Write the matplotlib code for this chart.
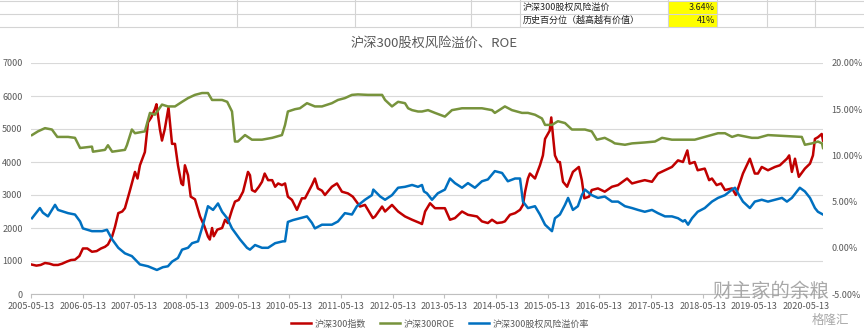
import matplotlib.pyplot as plt
import matplotlib.lines as mlines
import matplotlib.patches as mpatches
import matplotlib.ticker as mticker
import pandas as pd

plt.rcParams['font.family'] = ['Noto Sans CJK SC', 'DejaVu Sans']

# 沪深300指数 (left axis)
idx_dates = [
    '2005-05-20', '2005-06-20', '2005-07-20', '2005-08-20', '2005-09-20', '2005-10-20',
    '2005-11-20', '2005-12-20', '2006-01-20', '2006-02-20', '2006-03-20', '2006-04-20',
    '2006-05-15', '2006-06-15', '2006-07-18', '2006-08-20', '2006-09-20', '2006-10-18',
    '2006-11-08', '2006-12-08', '2006-12-28', '2007-01-20', '2007-02-17', '2007-03-08',
    '2007-04-10', '2007-05-18', '2007-06-05', '2007-06-22', '2007-07-27', '2007-08-18',
    '2007-09-10', '2007-10-06', '2007-10-17', '2007-11-10', '2007-11-25', '2007-12-15',
    '2008-01-10', '2008-01-25', '2008-02-04', '2008-02-25', '2008-03-17', '2008-04-10',
    '2008-04-22', '2008-05-05', '2008-05-27', '2008-06-15', '2008-07-15', '2008-08-20',
    '2008-09-20', '2008-10-15', '2008-10-28', '2008-11-13', '2008-11-25', '2008-12-20',
    '2009-01-23', '2009-02-13', '2009-03-05', '2009-04-03', '2009-04-24', '2009-05-20',
    '2009-06-20', '2009-07-25', '2009-08-08', '2009-08-22', '2009-09-13', '2009-10-10',
    '2009-11-01', '2009-11-20', '2009-12-14', '2010-01-12', '2010-02-02', '2010-02-23',
    '2010-03-22', '2010-04-13', '2010-05-03', '2010-06-01', '2010-07-06', '2010-08-10',
    '2010-09-01', '2010-10-20', '2010-11-10', '2010-12-01', '2010-12-30', '2011-01-20',
    '2011-03-10', '2011-04-15', '2011-05-20', '2011-07-01', '2011-08-05', '2011-09-25',
    '2011-10-30', '2011-12-25', '2012-01-10', '2012-02-28', '2012-03-20', '2012-05-08',
    '2012-06-20', '2012-08-08', '2012-09-27', '2012-11-22', '2012-12-06', '2012-12-28',
    '2013-02-01', '2013-03-08', '2013-05-17', '2013-06-22', '2013-07-27', '2013-09-15',
    '2013-10-27', '2013-12-30', '2014-02-03', '2014-03-17', '2014-04-15', '2014-05-20',
    '2014-06-25', '2014-07-15', '2014-08-20', '2014-09-25', '2014-10-30', '2014-11-20',
    '2014-12-05', '2014-12-25', '2015-01-08', '2015-02-13', '2015-03-20', '2015-04-10',
    '2015-04-25', '2015-05-28', '2015-06-08', '2015-06-20', '2015-07-04', '2015-07-25',
    '2015-08-08', '2015-08-30', '2015-09-28', '2015-11-08', '2015-12-20', '2016-01-10',
    '2016-01-28', '2016-03-01', '2016-03-20', '2016-05-03', '2016-06-20', '2016-08-10',
    '2016-09-22', '2016-11-25', '2016-12-30', '2017-02-10', '2017-03-30', '2017-05-20',
    '2017-07-01', '2017-08-20', '2017-10-08', '2017-11-20', '2017-12-25', '2018-01-25',
    '2018-02-10', '2018-03-18', '2018-04-08', '2018-05-28', '2018-06-28', '2018-07-18',
    '2018-08-20', '2018-09-20', '2018-10-18', '2018-12-07', '2019-01-03', '2019-02-22',
    '2019-04-12', '2019-05-17', '2019-06-08', '2019-07-05', '2019-08-18', '2019-10-06',
    '2019-11-10', '2019-12-30', '2020-01-15', '2020-02-03', '2020-02-25', '2020-03-23',
    '2020-05-05', '2020-06-10', '2020-07-01', '2020-07-15', '2020-08-05', '2020-09-01',
    '2020-09-10',
]
idx_values = [
    890, 860, 880, 940, 920, 880,
    880, 920, 980, 1030, 1040, 1150,
    1380, 1380, 1280, 1300, 1380, 1430,
    1500, 1750, 2040, 2450, 2500, 2600,
    3100, 3700, 3500, 3900, 4300, 5200,
    5350, 5600, 5750, 5000, 4650, 5000,
    5650, 5000, 4550, 4550, 3900, 3350,
    3300, 3900, 3600, 2950, 2870, 2350,
    2050, 1740, 1650, 2000, 1750, 1950,
    2000, 2250, 2150, 2550, 2800, 2850,
    3100, 3700, 3600, 3150, 3100, 3250,
    3400, 3650, 3450, 3450, 3250, 3350,
    3300, 3350, 2950, 2850, 2550, 2900,
    2900, 3300, 3500, 3200, 3130, 3000,
    3250, 3350, 3100, 3050, 2950, 2650,
    2700, 2300, 2350, 2650, 2500, 2700,
    2500, 2350, 2250, 2150, 2120, 2500,
    2750, 2600, 2600, 2250, 2300, 2500,
    2400, 2350, 2200, 2150, 2250, 2150,
    2170, 2200, 2400, 2450, 2550, 2700,
    3100, 3500, 3650, 3500, 3900, 4200,
    4700, 4950, 5350, 4800, 4200, 4000,
    4000, 3400, 3250, 3700, 3850, 3450,
    2900, 2950, 3150, 3200, 3100, 3250,
    3300, 3500, 3350, 3400, 3450, 3400,
    3650, 3750, 3850, 4050, 4000, 4350,
    3950, 4000, 3750, 3800, 3450, 3500,
    3300, 3350, 3150, 3200, 3000, 3650,
    4100, 3650, 3650, 3850, 3750, 3850,
    3900, 4100, 4200, 3700, 4100, 3550,
    3800, 3950, 4200, 4700, 4750, 4850,
    4650,
]

# 沪深300ROE (right axis, %)
roe_dates = [
    '2005-05-20', '2005-07-01', '2005-08-20', '2005-10-08', '2005-11-15', '2006-01-30',
    '2006-03-20', '2006-04-25', '2006-07-18', '2006-07-25', '2006-10-18', '2006-11-08',
    '2006-12-08', '2007-03-08', '2007-03-22', '2007-04-26', '2007-05-18', '2007-07-27',
    '2007-09-01', '2007-10-06', '2007-11-25', '2008-01-06', '2008-02-25', '2008-04-15',
    '2008-05-27', '2008-07-15', '2008-09-03', '2008-10-15', '2008-11-13', '2009-01-23',
    '2009-02-28', '2009-04-03', '2009-04-24', '2009-05-15', '2009-07-04', '2009-08-22',
    '2009-11-01', '2010-01-12', '2010-03-22', '2010-04-13', '2010-05-03', '2010-06-22',
    '2010-07-27', '2010-09-15', '2010-11-10', '2010-12-30', '2011-03-10', '2011-04-22',
    '2011-06-10', '2011-07-30', '2011-09-10', '2011-11-20', '2012-02-28', '2012-03-20',
    '2012-05-08', '2012-06-20', '2012-08-08', '2012-08-30', '2012-09-27', '2012-11-08',
    '2012-12-06', '2013-01-18', '2013-03-08', '2013-05-17', '2013-07-06', '2013-09-15',
    '2013-11-25', '2014-02-03', '2014-04-15', '2014-05-05', '2014-06-25', '2014-07-15',
    '2014-09-03', '2014-11-13', '2014-12-25', '2015-02-13', '2015-04-03', '2015-04-25',
    '2015-06-13', '2015-07-25', '2015-09-13', '2015-11-01', '2016-02-01', '2016-03-20',
    '2016-04-25', '2016-06-20', '2016-08-10', '2016-08-30', '2016-11-10', '2016-12-30',
    '2017-03-30', '2017-06-10', '2017-07-30', '2017-10-08', '2017-12-25', '2018-03-18',
    '2018-05-28', '2018-08-30', '2018-10-18', '2018-12-07', '2019-01-18', '2019-04-26',
    '2019-06-08', '2019-08-18', '2019-12-15', '2020-04-13', '2020-05-05', '2020-06-24',
    '2020-08-05', '2020-09-03', '2020-09-10',
]
roe_values = [
    12.2, 12.6, 12.95, 12.8, 12.0, 12.0,
    11.9, 10.8, 10.95, 10.4, 10.6, 11.1,
    10.4, 10.6, 11.1, 12.8, 12.4, 12.6,
    14.6, 14.4, 15.5, 15.3, 15.3, 15.8,
    16.2, 16.55, 16.75, 16.75, 16.0, 16.0,
    15.8, 14.75, 11.5, 11.5, 12.2, 11.7,
    11.7, 11.9, 12.2, 13.3, 14.75, 15.0,
    15.1, 15.65, 15.3, 15.3, 15.65, 16.0,
    16.2, 16.55, 16.6, 16.55, 16.55, 16.0,
    15.3, 15.8, 15.65, 15.1, 14.9, 14.75,
    14.75, 14.9, 14.6, 14.2, 14.9, 15.1,
    15.1, 15.1, 14.9, 14.6, 15.1, 15.3,
    14.9, 14.6, 14.6, 14.4, 14.0, 13.3,
    13.3, 13.7, 13.5, 12.8, 12.8, 12.6,
    11.7, 11.9, 11.5, 11.3, 11.15, 11.3,
    11.4, 11.5, 11.9, 11.7, 11.7, 11.7,
    12.0, 12.4, 12.4, 12.0, 12.2, 11.9,
    11.9, 12.2, 12.1, 12.0, 11.15, 11.3,
    11.5, 11.3, 10.8,
]

# 沪深300股权风险溢价率 (right axis, %)
erp_dates = [
    '2005-05-20', '2005-07-15', '2005-08-05', '2005-09-10', '2005-10-30', '2005-11-20',
    '2006-01-30', '2006-03-20', '2006-04-25', '2006-05-15', '2006-07-18', '2006-09-28',
    '2006-11-01', '2006-12-08', '2007-01-20', '2007-03-08', '2007-04-26', '2007-06-22',
    '2007-08-18', '2007-10-20', '2007-12-01', '2008-01-06', '2008-02-04', '2008-03-17',
    '2008-04-15', '2008-05-27', '2008-06-25', '2008-08-06', '2008-09-10', '2008-10-15',
    '2008-11-20', '2008-12-25', '2009-01-23', '2009-02-28', '2009-04-03', '2009-05-30',
    '2009-07-18', '2009-08-08', '2009-09-13', '2009-11-01', '2009-12-14', '2010-02-02',
    '2010-03-29', '2010-04-13', '2010-05-03', '2010-06-08', '2010-07-27', '2010-09-15',
    '2010-10-20', '2010-11-10', '2010-12-30', '2011-03-10', '2011-04-22', '2011-06-10',
    '2011-07-30', '2011-09-03', '2011-10-30', '2011-12-18', '2011-12-28', '2012-02-15',
    '2012-03-20', '2012-05-08', '2012-06-20', '2012-08-08', '2012-09-27', '2012-11-08',
    '2012-12-06', '2012-12-20', '2013-01-10', '2013-02-15', '2013-03-28', '2013-05-17',
    '2013-06-22', '2013-07-27', '2013-09-15', '2013-10-27', '2013-12-15', '2014-02-03',
    '2014-03-17', '2014-05-05', '2014-06-25', '2014-08-05', '2014-09-25', '2014-10-30',
    '2014-11-20', '2014-12-25', '2015-02-13', '2015-03-20', '2015-04-25', '2015-06-13',
    '2015-07-04', '2015-08-08', '2015-09-13', '2015-10-05', '2015-11-08', '2015-12-13',
    '2016-01-10', '2016-02-01', '2016-03-20', '2016-05-03', '2016-06-20', '2016-08-10',
    '2016-09-22', '2016-11-10', '2016-12-30', '2017-02-10', '2017-03-30', '2017-05-20',
    '2017-07-01', '2017-08-20', '2017-10-08', '2017-11-20', '2017-12-25', '2018-01-08',
    '2018-01-30', '2018-02-27', '2018-04-08', '2018-05-28', '2018-07-18', '2018-08-30',
    '2018-10-18', '2018-12-07', '2018-12-28', '2019-01-18', '2019-02-22', '2019-04-12',
    '2019-05-17', '2019-07-05', '2019-08-18', '2019-10-06', '2019-11-25', '2019-12-30',
    '2020-02-03', '2020-03-30', '2020-05-05', '2020-06-10', '2020-07-15', '2020-08-05',
    '2020-09-10',
]
erp_values = [
    3.2, 4.3, 3.8, 3.4, 4.65, 4.1,
    3.75, 3.6, 2.85, 2.1, 1.8, 1.8,
    1.95, 0.9, 0.0, -0.6, -0.9, -1.8,
    -2.0, -2.4, -2.1, -2.0, -1.5, -1.1,
    -0.2, 0.0, 0.5, 0.7, 2.5, 4.5,
    4.1, 4.8, 3.9, 3.2, 2.1, 0.9,
    0.0, -0.2, 0.3, 0.0, 0.0, 0.5,
    0.7, 0.7, 2.8, 3.0, 3.2, 3.4,
    2.7, 2.1, 2.5, 2.5, 2.85, 3.75,
    3.6, 4.5, 5.2, 5.7, 6.3, 5.55,
    5.2, 5.7, 6.5, 6.6, 6.8, 6.6,
    6.8, 6.1, 5.9, 5.2, 5.9, 6.3,
    7.5, 7.0, 6.5, 7.0, 6.5, 7.2,
    7.4, 8.3, 8.1, 7.2, 7.5, 7.5,
    5.0, 4.3, 4.5, 3.6, 2.5, 1.8,
    3.2, 3.6, 4.65, 5.4, 4.1, 4.5,
    5.7, 6.3, 5.7, 5.4, 5.55, 5.0,
    5.0, 4.5, 4.3, 4.1, 3.9, 4.1,
    3.75, 3.4, 3.4, 3.2, 2.85, 3.0,
    2.5, 3.2, 3.9, 4.3, 5.0, 5.4,
    5.7, 6.3, 6.5, 5.9, 5.0, 4.3,
    5.0, 5.2, 5.0, 5.2, 5.4, 5.0,
    5.4, 6.5, 6.1, 5.4, 4.3, 3.9,
    3.6,
]

tick_years = list(range(2005, 2021))
tick_labels = [f'{y}-05-13' for y in tick_years]

grey = '#595959'
W, H = 864, 335

fig = plt.figure(figsize=(W / 100, H / 100), dpi=100)
fig.patch.set_facecolor('white')

# spreadsheet strip on top
for yy in [1, 13.5, 27]:
    fig.add_artist(mlines.Line2D([0, 1], [1 - yy / H] * 2, color='#d4d4d4', lw=0.8))
for xx in [118, 237, 355, 471, 520, 668, 717, 767, 815]:
    fig.add_artist(mlines.Line2D([xx / W] * 2, [1 - 27 / H, 1], color='#d4d4d4', lw=0.8))
fig.add_artist(mpatches.Rectangle((668 / W, 1 - 27 / H), 49 / W, 26 / H,
                                  transform=fig.transFigure, color='#ffff00', lw=0))
fig.text(523 / W, 1 - 7.5 / H, '沪深300股权风险溢价', fontsize=6.5, va='center', color='#222222')
fig.text(523 / W, 1 - 20.5 / H, '历史百分位（越高越有价值）', fontsize=6.5, va='center', color='#222222')
fig.text(715 / W, 1 - 7.5 / H, '3.64%', fontsize=6.5, va='center', ha='right', color='#222222')
fig.text(715 / W, 1 - 20.5 / H, '41%', fontsize=6.5, va='center', ha='right', color='#222222')

ax = fig.add_axes([31 / W, 1 - 294 / H, 792 / W, 231 / H])
ax2 = ax.twinx()

d_idx = pd.to_datetime(idx_dates)
d_roe = pd.to_datetime(roe_dates)
d_erp = pd.to_datetime(erp_dates)

l1, = ax.plot(d_idx, idx_values, color='#c00000', lw=1.8, label='沪深300指数')
l2, = ax2.plot(d_roe, roe_values, color='#77933c', lw=1.8, label='沪深300ROE')
l3, = ax2.plot(d_erp, erp_values, color='#0070c0', lw=1.8, label='沪深300股权风险溢价率')

ax.set_xlim(pd.Timestamp('2005-05-13'), pd.Timestamp('2020-09-10'))
ax.set_ylim(0, 7000)
ax.set_yticks(range(0, 7001, 1000))
ax.grid(axis='y', color='#d9d9d9', lw=0.8)
ax.set_axisbelow(True)
ax.set_xticks(pd.to_datetime(tick_labels))
ax.set_xticklabels(tick_labels)

ax2.set_ylim(-5, 20)
ax2.set_yticks(range(-5, 21, 5))
ax2.yaxis.set_major_formatter(mticker.FuncFormatter(lambda v, p: f'{v:.2f}%'))

for a in (ax, ax2):
    for s in a.spines.values():
        s.set_visible(False)
ax.spines['bottom'].set_visible(True)
ax.spines['bottom'].set_color('#bfbfbf')
ax.tick_params(axis='y', length=0, labelsize=6.5, labelcolor=grey, pad=6)
ax.tick_params(axis='x', length=3, color='#bfbfbf', labelsize=6.5, labelcolor=grey, pad=3)
ax2.tick_params(axis='y', length=0, labelsize=6.5, labelcolor=grey, pad=6)

fig.text(434 / W, 1 - 43 / H, '沪深300股权风险溢价、ROE', ha='center', va='center',
         fontsize=9.5, color=grey)

fig.legend(handles=[l1, l2, l3], loc='center', bbox_to_anchor=(440 / W, 1 - 324 / H),
           ncol=3, frameon=False, fontsize=6.5, labelcolor=grey, handlelength=2.2,
           columnspacing=1.6, handletextpad=0.4)

# watermark
fig.text(712 / W, 1 - 291 / H, '财主家的余粮', fontsize=14, color='#9a9a9a', alpha=0.85,
         va='center')
fig.text(812 / W, 1 - 320 / H, '格隆汇', fontsize=9, color='#9a9a9a', alpha=0.85,
         va='center')

fig.savefig('out.png', dpi=100)
